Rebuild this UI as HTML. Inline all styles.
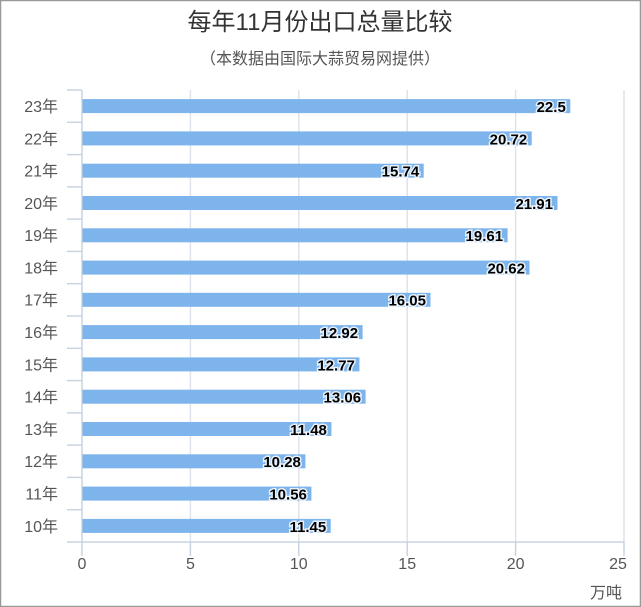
<!DOCTYPE html>
<html><head><meta charset="utf-8"><style>
body{margin:0;background:#fff}
svg{display:block;font-family:"Liberation Sans","Noto Sans CJK SC",sans-serif}
</style></head><body>
<svg width="641" height="607" viewBox="0 0 641 607">
<rect x="0.5" y="0.5" width="640" height="606" fill="#fff" stroke="#999" stroke-width="1.5"/>
<text x="320" y="30" text-anchor="middle" font-size="24" fill="#333">每年11月份出口总量比较</text>
<text x="320" y="64" text-anchor="middle" font-size="16" fill="#555">（本数据由国际大蒜贸易网提供）</text>
<g stroke="#dde3ea" stroke-width="1.5">
<line x1="190.4" y1="90" x2="190.4" y2="542"/>
<line x1="298.8" y1="90" x2="298.8" y2="542"/>
<line x1="407.2" y1="90" x2="407.2" y2="542"/>
<line x1="515.6" y1="90" x2="515.6" y2="542"/>
<line x1="624" y1="90" x2="624" y2="542"/>
</g>
<g stroke="#c8d4e2" stroke-width="1.5">
<line x1="82" y1="90" x2="82" y2="542"/>
<line x1="82" y1="542" x2="624" y2="542"/>
<line x1="82" y1="542" x2="82" y2="556"/><line x1="190.4" y1="542" x2="190.4" y2="556"/><line x1="298.8" y1="542" x2="298.8" y2="556"/><line x1="407.2" y1="542" x2="407.2" y2="556"/><line x1="515.6" y1="542" x2="515.6" y2="556"/><line x1="624" y1="542" x2="624" y2="556"/>
<line x1="67" y1="90" x2="82" y2="90"/><line x1="67" y1="122.3" x2="82" y2="122.3"/><line x1="67" y1="154.6" x2="82" y2="154.6"/><line x1="67" y1="186.9" x2="82" y2="186.9"/><line x1="67" y1="219.1" x2="82" y2="219.1"/><line x1="67" y1="251.4" x2="82" y2="251.4"/><line x1="67" y1="283.7" x2="82" y2="283.7"/><line x1="67" y1="316" x2="82" y2="316"/><line x1="67" y1="348.3" x2="82" y2="348.3"/><line x1="67" y1="380.6" x2="82" y2="380.6"/><line x1="67" y1="412.9" x2="82" y2="412.9"/><line x1="67" y1="445.1" x2="82" y2="445.1"/><line x1="67" y1="477.4" x2="82" y2="477.4"/><line x1="67" y1="509.7" x2="82" y2="509.7"/><line x1="67" y1="542" x2="82" y2="542"/>
</g>
<g font-size="16" fill="#555" text-anchor="middle">
<text x="82" y="569">0</text><text x="190.4" y="569">5</text><text x="298.8" y="569">10</text><text x="407.2" y="569">15</text><text x="515.6" y="569">20</text><text x="618" y="569">25</text>
<text x="606" y="598">万吨</text>
</g>
<g fill="#7db4ec">
<rect x="82.5" y="99.1" width="487.8" height="14"/>
<rect x="82.5" y="131.4" width="449.2" height="14"/>
<rect x="82.5" y="163.7" width="341.2" height="14"/>
<rect x="82.5" y="196.0" width="475.0" height="14"/>
<rect x="82.5" y="228.3" width="425.1" height="14"/>
<rect x="82.5" y="260.6" width="447.0" height="14"/>
<rect x="82.5" y="292.8" width="348.0" height="14"/>
<rect x="82.5" y="325.1" width="280.1" height="14"/>
<rect x="82.5" y="357.4" width="276.9" height="14"/>
<rect x="82.5" y="389.7" width="283.1" height="14"/>
<rect x="82.5" y="422.0" width="248.9" height="14"/>
<rect x="82.5" y="454.3" width="222.9" height="14"/>
<rect x="82.5" y="486.6" width="228.9" height="14"/>
<rect x="82.5" y="518.9" width="248.2" height="14"/>
</g>
<g font-size="16" fill="#555" text-anchor="end">
<text x="58" y="112">23年</text>
<text x="58" y="144.3">22年</text>
<text x="58" y="176.6">21年</text>
<text x="58" y="208.9">20年</text>
<text x="58" y="241.2">19年</text>
<text x="58" y="273.5">18年</text>
<text x="58" y="305.7">17年</text>
<text x="58" y="338">16年</text>
<text x="58" y="370.3">15年</text>
<text x="58" y="402.6">14年</text>
<text x="58" y="434.9">13年</text>
<text x="58" y="467.2">12年</text>
<text x="58" y="499.5">11年</text>
<text x="58" y="531.8">10年</text>
</g>
<g font-size="15" font-weight="bold" fill="#000" text-anchor="end" stroke="#fff" stroke-width="3" stroke-opacity="0.8" paint-order="stroke">
<text x="565.8" y="112">22.5</text>
<text x="527.2" y="144.3">20.72</text>
<text x="419.2" y="176.6">15.74</text>
<text x="553" y="208.9">21.91</text>
<text x="503.1" y="241.2">19.61</text>
<text x="525" y="273.5">20.62</text>
<text x="426" y="305.7">16.05</text>
<text x="358.1" y="338">12.92</text>
<text x="354.9" y="370.3">12.77</text>
<text x="361.1" y="402.6">13.06</text>
<text x="326.9" y="434.9">11.48</text>
<text x="300.9" y="467.2">10.28</text>
<text x="306.9" y="499.5">10.56</text>
<text x="326.2" y="531.8">11.45</text>
</g>
</svg>
</body></html>
